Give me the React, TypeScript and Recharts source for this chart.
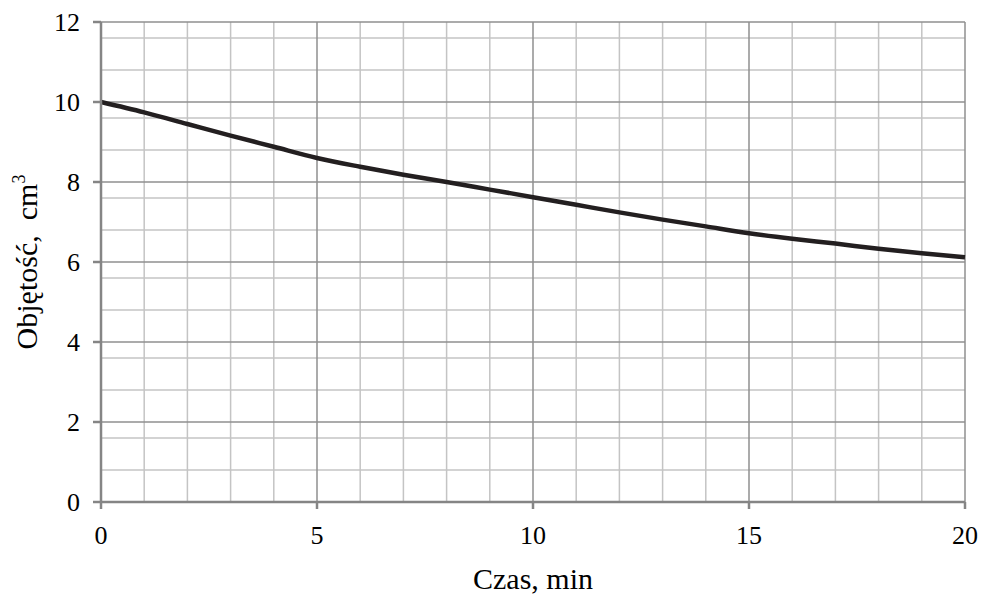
import { LineChart, Line, XAxis, YAxis, CartesianGrid } from 'recharts';

// ── Data ──────────────────────────────────────────────────────────────────────

const TIME_MIN = [0, 1, 2, 3, 4, 5, 6, 7, 8, 9, 10, 11, 12, 13, 14, 15, 16, 17, 18, 19, 20];
const VOLUME_CM3 = [
  10.0, 9.74, 9.45, 9.16, 8.88, 8.6, 8.38, 8.18, 8.0, 7.81, 7.62,
  7.43, 7.24, 7.06, 6.89, 6.72, 6.58, 6.46, 6.33, 6.22, 6.12,
];

const X_TICKS = [0, 5, 10, 15, 20];
const Y_TICKS = [0, 2, 4, 6, 8, 10, 12];
const X_MINOR = [1, 2, 3, 4, 6, 7, 8, 9, 11, 12, 13, 14, 16, 17, 18, 19];
const Y_MINOR = [0.4, 0.8, 1.2, 1.6, 2.4, 2.8, 3.2, 3.6, 4.4, 4.8, 5.2, 5.6, 6.4, 6.8, 7.2, 7.6, 8.4, 8.8, 9.2, 9.6, 10.4, 10.8, 11.2, 11.6];

const data = TIME_MIN.map((t, i) => ({ t, v: VOLUME_CM3[i] }));

// ── Style ─────────────────────────────────────────────────────────────────────

const FONT = '"Liberation Serif", "Times New Roman", serif';
const AXIS_GRAY = '#858585';
const MAJOR_GRAY = '#8f8f8f';
const MINOR_GRAY = '#c4c4c4';
const TICK_FS = 26;

// ── Custom ticks and titles ───────────────────────────────────────────────────

function XTick({ x, y, payload }: { x?: number; y?: number; payload?: { value: number } }) {
  return (
    <text x={x} y={(y ?? 0) + 30} textAnchor="middle" fontFamily={FONT} fontSize={TICK_FS} fill="#000">
      {payload?.value}
    </text>
  );
}

function YTick({ x, y, payload }: { x?: number; y?: number; payload?: { value: number } }) {
  return (
    <text x={x} y={y} dy="0.35em" textAnchor="end" fontFamily={FONT} fontSize={TICK_FS} fill="#000">
      {payload?.value}
    </text>
  );
}

function XTitle({ viewBox }: { viewBox?: { x: number; y: number; width: number; height: number } }) {
  const cx = viewBox ? viewBox.x + viewBox.width / 2 : 533;
  return (
    <text x={cx} y={589} textAnchor="middle" fontFamily={FONT} fontSize={30} fill="#000">
      Czas, min
    </text>
  );
}

function YTitle({ viewBox }: { viewBox?: { x: number; y: number; width: number; height: number } }) {
  const cx = 37;
  const cy = viewBox ? viewBox.y + viewBox.height / 2 : 262;
  return (
    <text
      x={cx} y={cy}
      transform={`rotate(-90, ${cx}, ${cy})`}
      textAnchor="middle"
      fontFamily={FONT}
      fontSize={30}
      fill="#000"
    >
      <tspan style={{ whiteSpace: 'pre' }}>Objętość,  cm</tspan>
      <tspan fontSize={18} dy={-12}>3</tspan>
    </text>
  );
}

export default function App() {
  return (
    <div style={{ position: 'absolute', left: 0, top: 0, background: '#fff' }}>
      <LineChart
        width={982}
        height={594}
        data={data}
        margin={{ top: 22, right: 17, bottom: 20, left: 0 }}
      >
        <CartesianGrid
          horizontalValues={Y_MINOR}
          verticalValues={X_MINOR}
          stroke={MINOR_GRAY}
          strokeWidth={1.5}
        />
        <CartesianGrid
          horizontalValues={Y_TICKS}
          verticalValues={X_TICKS}
          stroke={MAJOR_GRAY}
          strokeWidth={1.5}
        />
        <XAxis
          dataKey="t"
          type="number"
          domain={[0, 20]}
          ticks={X_TICKS}
          height={72}
          stroke={AXIS_GRAY}
          strokeWidth={2.5}
          tickSize={7}
          tickMargin={5}
          tick={<XTick />}
          label={<XTitle />}
        />
        <YAxis
          type="number"
          domain={[0, 12]}
          ticks={Y_TICKS}
          width={101}
          stroke={AXIS_GRAY}
          strokeWidth={2.5}
          tickSize={8}
          tickMargin={13}
          tick={<YTick />}
          label={<YTitle />}
        />
        <Line
          dataKey="v"
          type="monotone"
          stroke="#231f20"
          strokeWidth={4.5}
          dot={false}
          isAnimationActive={false}
        />
      </LineChart>
    </div>
  );
}
